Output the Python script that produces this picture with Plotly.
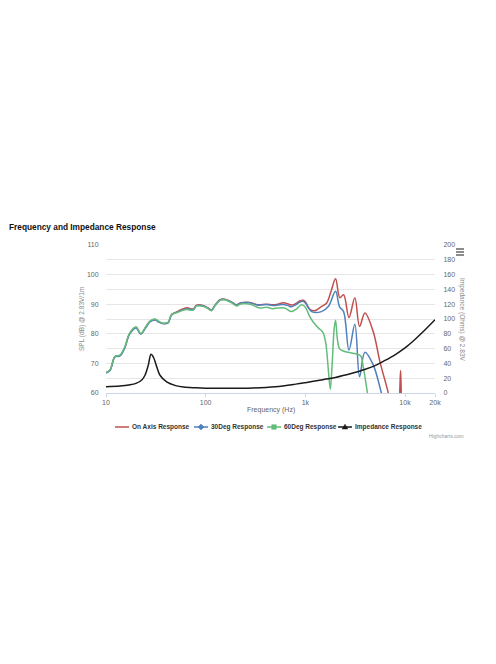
import plotly.graph_objects as go

# ---------------- data ----------------
freq_on = [10, 11, 12.3, 13.8, 15.5, 17.1, 20, 22.3, 25, 27.6, 31, 34, 37.6, 42, 45.6, 52, 57, 64.5, 75, 81, 94, 105, 114, 125, 139, 155, 175, 189, 204, 225, 278, 333, 410, 470, 530, 600, 660, 725, 800, 880, 950, 1000, 1110, 1240, 1450, 1630, 1800, 2010, 2220, 2420, 2740, 3140, 3500, 3960, 4800, 5600, 6800, 7500, 8600, 8850, 9030, 9200, 9500, 12000]
spl_on = [66.9, 67.8, 72.3, 72.6, 75.5, 79.8, 82.2, 80.0, 82.2, 84.2, 84.8, 84.0, 83.5, 83.8, 86.6, 87.5, 88.2, 88.8, 88.4, 89.7, 89.6, 88.8, 88.0, 89.8, 91.5, 91.7, 91.0, 90.4, 89.8, 90.5, 90.6, 89.8, 90.0, 89.8, 90.0, 90.5, 90.2, 89.7, 90.2, 91.1, 91.3, 90.8, 88.3, 87.8, 89.2, 90.3, 94.0, 98.6, 92.2, 93.2, 85.5, 92.2, 82.5, 87.0, 80.7, 70.6, 60.0, 53.0, 52.0, 60.0, 67.6, 59.0, 52.0, 45.0]

freq_30 = [10, 11, 12.3, 13.8, 15.5, 17.1, 20, 22.3, 25, 27.6, 31, 34, 37.6, 42, 45.6, 52, 57, 64.5, 75, 81, 94, 105, 114, 125, 139, 155, 175, 189, 204, 225, 278, 333, 410, 470, 530, 600, 660, 725, 800, 880, 950, 1000, 1160, 1450, 1700, 2010, 2200, 2420, 2740, 3140, 3500, 3960, 4800, 5800, 7000]
spl_30 = [66.7, 67.7, 72.2, 72.5, 75.4, 79.6, 82.0, 79.9, 82.0, 84.0, 84.7, 83.9, 83.4, 83.7, 86.4, 87.3, 87.9, 88.4, 88.2, 89.5, 89.5, 88.7, 87.9, 89.7, 91.4, 91.6, 90.9, 90.3, 89.7, 90.4, 90.5, 89.7, 89.9, 89.6, 89.7, 89.9, 89.6, 89.1, 89.8, 90.7, 91.0, 90.4, 87.5, 87.5, 89.2, 94.4, 89.2, 87.5, 74.5, 83.2, 65.5, 73.8, 69.5, 60.0, 50.0]

freq_60 = [10, 11, 12.3, 13.8, 15.5, 17.1, 20, 22.3, 25, 27.6, 31, 34, 37.6, 42, 45.6, 52, 57, 64.5, 75, 81, 94, 105, 114, 125, 139, 155, 175, 189, 204, 225, 278, 350, 410, 470, 530, 620, 725, 800, 920, 1000, 1100, 1200, 1350, 1500, 1600, 1700, 1780, 1860, 1950, 2010, 2100, 2200, 2400, 2900, 3400, 3600, 3850, 4200, 4600]
spl_60 = [66.8, 67.9, 72.4, 72.8, 75.7, 80.0, 82.3, 80.1, 82.3, 84.3, 85.0, 84.2, 83.6, 83.9, 86.5, 87.2, 87.8, 88.2, 88.0, 89.4, 89.3, 88.6, 87.8, 89.6, 91.3, 91.5, 90.8, 90.1, 89.4, 90.1, 90.0, 88.7, 89.0, 88.5, 88.7, 88.7, 87.5, 88.2, 89.8, 89.0, 86.0, 84.0, 82.0, 80.5, 77.0, 68.0, 61.3, 70.0, 82.0, 84.6, 78.0, 75.0, 74.2, 73.5, 73.0, 72.5, 68.0, 60.0, 52.0]

freq_imp = [10, 13.8, 17, 20, 23, 24.6, 26.5, 28.3, 30, 32, 34.8, 40.6, 50, 60, 80, 100, 150, 200, 300, 500, 800, 1000, 1500, 2000, 3000, 4000, 5000, 6300, 8000, 10000, 12500, 15000, 20000]
imp = [8.5, 9.4, 10.8, 13.0, 18.0, 24.0, 37.0, 52.5, 48.0, 37.0, 24.0, 15.0, 10.0, 8.0, 7.0, 6.5, 6.3, 6.4, 6.8, 8.5, 12.0, 14.0, 18.0, 21.0, 27.0, 32.0, 37.0, 44.0, 52.0, 61.0, 72.0, 82.0, 99.0]

x_tickvals = [10, 100, 1000, 10000, 20000]
x_ticktext = ["10", "100", "1k", "10k", "20k"]
spl_ticks = [60, 70, 80, 90, 100, 110]
imp_ticks = [0, 20, 40, 60, 80, 100, 120, 140, 160, 180, 200]

names = ["On Axis Response", "30Deg Response", "60Deg Response", "Impedance Response"]
colors = ["#c0504d", "#4f81bd", "#62bd7b", "#1a1a1a"]

# ---------------- geometry (page pixels of the plot area) ----------------
PL, PR, PT, PB = 106, 435, 245, 393     # plot area on page
OFF = 8                                 # default body margin of the html page
W, H = 480, 648
PW, PH = PR - PL, PB - PT


def px(xp):
    return (xp - PL) / PW


def py(yp):
    return (PB - yp) / PH


fig = go.Figure()
series = [(freq_on, spl_on, "y"), (freq_30, spl_30, "y"), (freq_60, spl_60, "y"), (freq_imp, imp, "y2")]
for (fx, fy, ax), nm, col in zip(series, names, colors):
    fig.add_trace(go.Scatter(x=fx, y=fy, yaxis=ax, mode="lines", name=nm,
                             line=dict(color=col, width=1.5, shape="spline", smoothing=1.0),
                             showlegend=False, hoverinfo="skip"))

grid = "#e6e6e6"
FONT = "Liberation Sans, Arial, sans-serif"
tickfont = dict(family=FONT, size=7, color="#666666")

fig.update_layout(
    width=W, height=H,
    margin=dict(l=PL - OFF, r=W - (PR - OFF), t=PT - OFF, b=H - (PB - OFF), autoexpand=False),
    paper_bgcolor="white", plot_bgcolor="white",
    font=dict(family=FONT, size=7, color="#666666"),
    showlegend=False,
    xaxis=dict(type="log", range=[1, 4.30103], tickvals=x_tickvals, ticktext=x_ticktext,
               showgrid=False, zeroline=False, showline=True, linecolor="#ccd6eb", linewidth=1,
               ticks="outside", ticklen=3, tickcolor="#ccd6eb", tickfont=tickfont),
    yaxis=dict(range=[60, 110], tickvals=spl_ticks, showgrid=True, gridcolor=grid, zeroline=False,
               ticks="outside", ticklen=5, tickcolor="rgba(0,0,0,0)", tickfont=tickfont),
    yaxis2=dict(range=[0, 200], tickvals=imp_ticks, overlaying="y", side="right",
                showgrid=True, gridcolor=grid, zeroline=False,
                ticks="outside", ticklen=6, tickcolor="rgba(0,0,0,0)", tickfont=tickfont),
)

# title
fig.add_annotation(text="<b>Frequency and Impedance Response</b>", xref="paper", yref="paper",
                   x=px(7), y=py(227), xanchor="left", yanchor="middle", showarrow=False,
                   font=dict(family=FONT, size=8.3, color="#111111"))
# axis titles
fig.add_annotation(text="Frequency (Hz)", xref="paper", yref="paper", x=0.5, y=py(410),
                   xanchor="center", yanchor="middle", showarrow=False,
                   font=dict(family=FONT, size=7, color="#666666"))
fig.add_annotation(text="SPL (dB) @ 2.83V/1m", xref="paper", yref="paper", x=px(82), y=0.5,
                   xanchor="center", yanchor="middle",
                   textangle=-90, showarrow=False, font=dict(family=FONT, size=6.5, color="#888888"))
fig.add_annotation(text="Impedance (Ohms) @ 2.83V", xref="paper", yref="paper", x=px(462), y=0.5,
                   xanchor="center", yanchor="middle",
                   textangle=90, showarrow=False, font=dict(family=FONT, size=6.5, color="#888888"))
# credits
fig.add_annotation(text="Highcharts.com", xref="paper", yref="paper",
                   x=px(466), y=py(436), xanchor="right", yanchor="middle",
                   showarrow=False, font=dict(family=FONT, size=5, color="#999999"))
# export menu icon
for yy in [249, 252, 255]:
    fig.add_shape(type="line", xref="paper", yref="paper", x0=px(456), x1=px(464),
                  y0=py(yy), y1=py(yy), line=dict(color="#666666", width=1.5))

# legend (Highcharts style: short line with marker, bold label)
leg_y = 427
leg_marker_x = [122, 201, 274, 345]
marker_paths = [
    "M-2.5,0 A2.5,2.5 0 1,0 2.5,0 A2.5,2.5 0 1,0 -2.5,0 Z",   # circle
    "M0,-3 L3,0 L0,3 L-3,0 Z",                                # diamond
    "M-2.3,-2.3 L2.3,-2.3 L2.3,2.3 L-2.3,2.3 Z",              # square
    "M0,2.8 L2.8,-2 L-2.8,-2 Z",                              # triangle
]
for nm, col, mx, mp in zip(names, colors, leg_marker_x, marker_paths):
    fig.add_shape(type="line", xref="paper", yref="paper", x0=px(mx - 7), x1=px(mx + 7),
                  y0=py(leg_y), y1=py(leg_y), line=dict(color=col, width=1.5))
    fig.add_shape(type="path", xref="paper", yref="paper", xsizemode="pixel", ysizemode="pixel",
                  xanchor=px(mx), yanchor=py(leg_y), path=mp,
                  fillcolor=col, line=dict(color=col, width=0.5))
    fig.add_annotation(text="<b>" + nm + "</b>", xref="paper", yref="paper",
                       x=px(mx + 8), y=py(leg_y), xanchor="left", yanchor="middle", showarrow=False,
                       font=dict(family=FONT, size=6.5, color="#333333"))

fig.write_html("out.html")
